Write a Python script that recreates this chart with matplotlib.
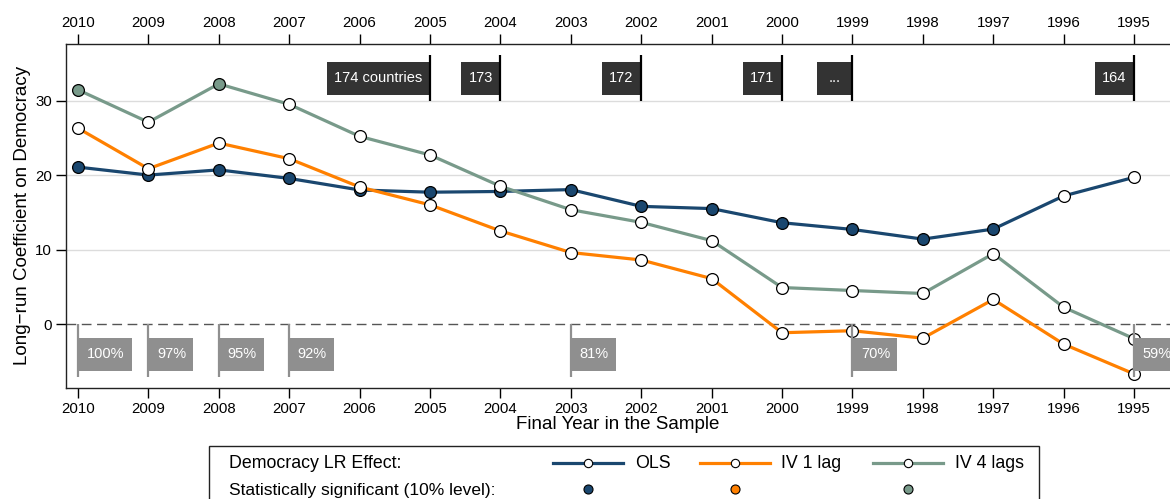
import matplotlib
matplotlib.use("Agg")
import matplotlib.pyplot as plt
from matplotlib.patches import Rectangle
from matplotlib.lines import Line2D

plt.rcParams['font.family'] = ['Liberation Sans', 'DejaVu Sans']

# ---------------- data ----------------
years = [2010, 2009, 2008, 2007, 2006, 2005, 2004, 2003, 2002, 2001, 2000, 1999, 1998, 1997, 1996, 1995]

ols = [21.07, 20.0, 20.7, 19.55, 18.0, 17.7, 17.8, 18.05, 15.8, 15.5, 13.6, 12.7, 11.4, 12.75, 17.2, 19.7]
ols_sig = [1, 1, 1, 1, 1, 1, 1, 1, 1, 1, 1, 1, 1, 1, 0, 0]

iv1 = [26.3, 20.85, 24.3, 22.2, 18.4, 16.0, 12.5, 9.6, 8.6, 6.1, -1.17, -0.9, -1.9, 3.3, -2.7, -6.7]
iv1_sig = [0] * 16

iv4 = [31.45, 27.1, 32.25, 29.5, 25.2, 22.7, 18.5, 15.35, 13.65, 11.2, 4.9, 4.5, 4.1, 9.45, 2.25, -1.97]
iv4_sig = [1, 0, 1, 0, 0, 0, 0, 0, 0, 0, 0, 0, 0, 0, 0, 0]

country_years = [2005, 2004, 2002, 2000, 1999, 1995]
country_labels = ["174 countries", "173", "172", "171", "...", "164"]

share_years = [2010, 2009, 2008, 2007, 2003, 1999, 1995]
share_labels = ["100%", "97%", "95%", "92%", "81%", "70%", "59%"]

series_names = ["OLS", "IV 1 lag", "IV 4 lags"]
y_ticks = [0, 10, 20, 30]

# ---------------- style ----------------
C_OLS = "#1a476f"
C_IV1 = "#ff8000"
C_IV4 = "#789a8a"
colors = [C_OLS, C_IV1, C_IV4]

W, H = 1170, 499
fig = plt.figure(figsize=(W / 100, H / 100), dpi=100)
ax = fig.add_axes([66 / W, 1 - 387.7 / H, 1 - 66 / W, (387.7 - 44) / H])

ax.set_xlim(2010.17, 1994.49)
ax.set_ylim(-8.55, 37.6)

# gridlines
for yv in [10, 20, 30]:
    ax.axhline(yv, color="#dcdcdc", lw=1.0, zorder=0)
ax.axhline(0, color="#555555", lw=1.0, ls=(0, (7, 4)), zorder=1)

series = [(ols, ols_sig), (iv1, iv1_sig), (iv4, iv4_sig)]
for (vals, sig), c in zip(series, colors):
    ax.plot(years, vals, color=c, lw=2.3, zorder=2)
    for x, v, s in zip(years, vals, sig):
        ax.plot([x], [v], marker="o", ms=8.5, mec="black", mew=0.9,
                mfc=(c if s else "white"), zorder=3, ls="none")

# top country-count boxes
box_w = {"174 countries": 1.463}
for yr, lab in zip(country_years, country_labels):
    w = box_w.get(lab, 0.497 if lab == "..." else 0.561)
    ax.add_patch(Rectangle((yr, 30.8), w, 4.4, facecolor="#333333",
                           edgecolor="none", zorder=5))
    ax.plot([yr, yr], [30.0, 36.1], color="black", lw=1.6, zorder=6,
            solid_capstyle="butt")
    ax.text(yr + w / 2, 33.0, lab, color="white", ha="center", va="center",
            fontsize=10.5, zorder=7)

# bottom share boxes
for yr, lab in zip(share_years, share_labels):
    w = 0.767 if lab == "100%" else 0.639
    ax.add_patch(Rectangle((yr - w, -6.3), w, 4.42, facecolor="#8f8f8f",
                           edgecolor="none", zorder=5))
    ax.plot([yr, yr], [0, -7.1], color="#8f8f8f", lw=1.6, zorder=6,
            solid_capstyle="butt")
    ax.text(yr - 0.123, -4.09, lab, color="white", ha="left", va="center",
            fontsize=10.5, zorder=7)

# axes styling
ax.set_xticks(years)
ax.set_xticklabels([str(y) for y in years])
ax.set_yticks(y_ticks)
ax.set_yticklabels([str(y) for y in y_ticks])
ax.tick_params(axis="both", direction="out", length=7, width=1, labelsize=10.8,
               colors="black", pad=3)
ax.tick_params(axis="x", top=True, labeltop=True)
ax.spines["right"].set_visible(False)
for s in ["left", "top", "bottom"]:
    ax.spines[s].set_linewidth(1.0)
    ax.spines[s].set_color("#222222")

ax.set_xlabel("Final Year in the Sample", fontsize=13.5, labelpad=0)
ax.set_ylabel("Long\u2212run Coefficient on Democracy", fontsize=13.5, labelpad=3)

# ---------------- legend (pixel-space overlay) ----------------
lax = fig.add_axes([0, 0, 1, 1])
lax.set_xlim(0, W)
lax.set_ylim(H, 0)
lax.axis("off")
lax.add_patch(Rectangle((209.3, 445.7), 1038.7 - 209.3, 80, facecolor="white",
                        edgecolor="#222222", lw=1.0))
lax.text(229, 463, "Democracy LR Effect:", fontsize=12.8, va="center", ha="left")
lax.text(229, 490, "Statistically significant (10% level):", fontsize=12.5,
         va="center", ha="left")
leg_x = [(553, 623, 635), (700, 770, 781), (873, 943, 955)]
for (x0, x1, xt), c, name in zip(leg_x, colors, series_names):
    lax.add_line(Line2D([x0, x1], [463, 463], color=c, lw=2.3))
    lax.add_line(Line2D([(x0 + x1) / 2], [463], marker="o", ms=6, mfc="white",
                        mec="black", mew=0.8))
    lax.add_line(Line2D([(x0 + x1) / 2], [489], marker="o", ms=6.5, mfc=c,
                        mec="black", mew=0.8))
    lax.text(xt, 463, name, fontsize=12.8, va="center", ha="left")

fig.savefig("out.png", dpi=100)
